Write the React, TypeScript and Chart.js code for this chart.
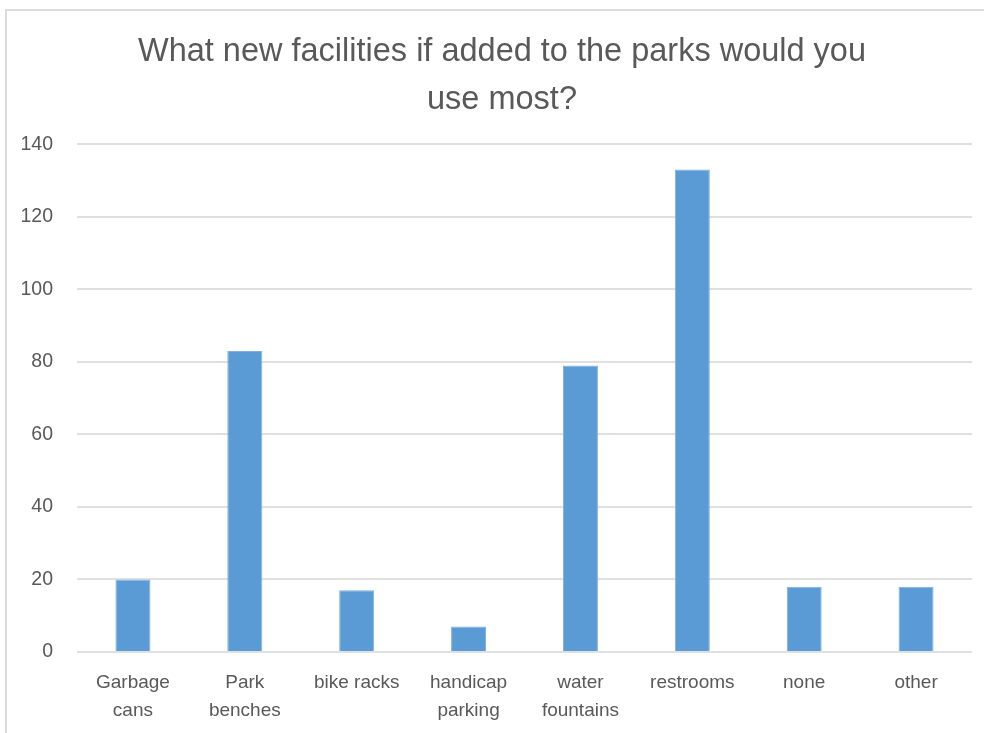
import React, { useEffect, useRef } from "react";
import { Chart, registerables } from "chart.js";

Chart.register(...registerables);

const titleLines = ["What new facilities if added to the parks would you", "use most?"];
const categoryLabels: string[][] = [
  ["Garbage", "cans"],
  ["Park", "benches"],
  ["bike racks"],
  ["handicap", "parking"],
  ["water", "fountains"],
  ["restrooms"],
  ["none"],
  ["other"],
];
const responseCounts = [20, 83, 17, 7, 79, 133, 18, 18];
const yMin = 0;
const yMax = 140;
const yStep = 20;

const FONT = "'Liberation Sans', Arial, sans-serif";
const TEXT = "#595959";

const titleShift = {
  id: "titleShift",
  afterLayout(chart: any) {
    const tb = chart.titleBlock;
    if (tb) {
      tb.left += 16;
      tb.right += 16;
    }
  },
};

export default function App() {
  const canvasRef = useRef<HTMLCanvasElement | null>(null);

  useEffect(() => {
    if (!canvasRef.current) return;
    const chart = new Chart(canvasRef.current, {
      type: "bar",
      data: {
        labels: categoryLabels,
        datasets: [
          {
            data: responseCounts,
            backgroundColor: "#5b9bd5",
            borderColor: "#7fb0de",
            borderWidth: 1,
            categoryPercentage: 1,
            barPercentage: 0.313,
          },
        ],
      },
      plugins: [titleShift],
      options: {
        animation: false,
        responsive: false,
        maintainAspectRatio: false,
        layout: { padding: { left: 0, right: 12, top: 0, bottom: 10 } },
        plugins: {
          legend: { display: false },
          tooltip: { enabled: false },
          title: {
            display: true,
            text: titleLines,
            color: TEXT,
            font: { family: FONT, size: 32.5, weight: "normal", lineHeight: 1.48 },
            padding: { top: 28, bottom: 20 },
          },
        },
        scales: {
          x: {
            afterFit: (scale: any) => {
              scale.height = 71;
            },
            grid: { display: false, drawTicks: false },
            border: { display: false },
            ticks: {
              color: TEXT,
              padding: 17,
              maxRotation: 0,
              autoSkip: false,
              font: { family: FONT, size: 19, lineHeight: 1.47 },
            },
          },
          y: {
            min: yMin,
            max: yMax,
            afterFit: (scale: any) => {
              scale.width = 77;
            },
            grid: { color: "#e0e0e0", lineWidth: 2, drawTicks: false },
            border: { display: false },
            ticks: {
              stepSize: yStep,
              color: TEXT,
              padding: 24,
              font: { family: FONT, size: 19.5 },
            },
          },
        },
      },
    });
    return () => chart.destroy();
  }, []);

  return (
    <div style={{ position: "fixed", left: 0, top: 0, width: 984, height: 733, background: "#fff", overflow: "hidden" }}>
      <canvas ref={canvasRef} width={984} height={733} style={{ position: "absolute", left: 0, top: 0 }} />
      <div
        style={{
          position: "absolute",
          left: 5,
          top: 9,
          width: 1000,
          height: 800,
          border: "2px solid #dcdcdc",
          boxSizing: "border-box",
          pointerEvents: "none",
        }}
      />
    </div>
  );
}
